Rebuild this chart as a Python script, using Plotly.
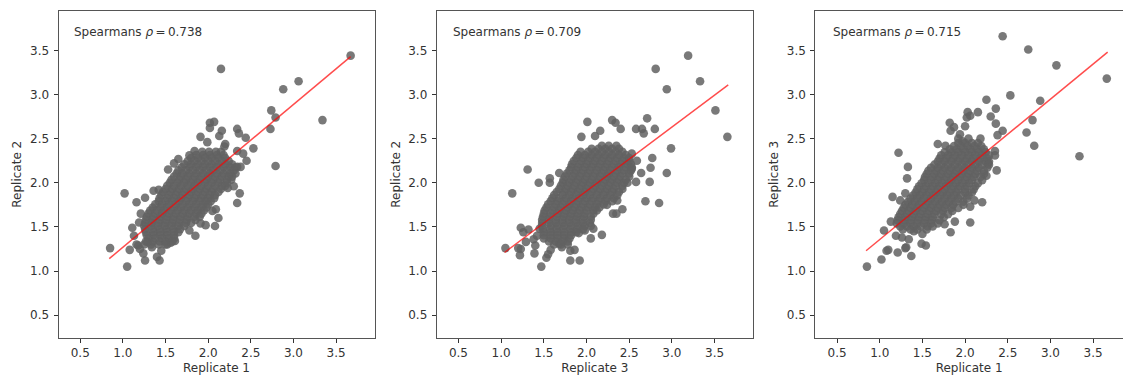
import plotly.graph_objects as go

W, H = 1123, 377
labels = ["Replicate 1", "Replicate 3", "Replicate 1"]
ylabels = ["Replicate 2", "Replicate 2", "Replicate 3"]
rho = ["0.738", "0.709", "0.715"]
tick_vals = [0.5, 1.0, 1.5, 2.0, 2.5, 3.0, 3.5]
tick_text = ["0.5", "1.0", "1.5", "2.0", "2.5", "3.0", "3.5"]

# fitted lines
line1_x = [0.84, 3.67]; line1_y = [1.14, 3.43]
line2_x = [1.04, 3.66]; line2_y = [1.21, 3.11]
line3_x = [0.84, 3.67]; line3_y = [1.23, 3.48]

# isolated points (x, y)
out1 = [(3.67,3.44),(2.15,3.29),(3.06,3.15),(2.88,3.06),(2.74,2.82),(2.79,2.74),(2.73,2.61),(3.34,2.71),(2.79,2.19),
(2.53,2.39),(2.44,2.51),(2.34,2.61),(2.36,2.56),(2.45,2.25),(2.34,2.36),(2.41,2.33),(2.34,2.18),(2.37,1.88),(2.34,1.77),
(2.02,2.68),(2.07,2.69),(2.02,2.62),(2.16,2.59),(2.13,2.53),(1.91,2.52),(2.2,2.44),(1.99,2.46),(2.19,2.41),(1.53,2.15),
(1.6,2.22),(1.65,2.27),(1.02,1.88),(1.16,1.78),(1.26,1.83),(1.36,1.91),(0.85,1.26),(1.05,1.05),(1.26,1.12),(1.43,1.12),
(1.4,1.16),(1.08,1.24),(1.11,1.49),(1.13,1.4),(1.19,1.55),(1.21,1.65),(1.18,1.29),(1.24,1.2),(1.34,1.27),(1.45,1.23),
(1.52,1.3),(1.61,1.34),(1.85,1.4),(1.78,1.46),(1.91,1.54),(1.97,1.52),(2.08,1.51),(2.12,1.6),(2.09,1.7),(2.05,1.68),
(2.23,1.94),(2.3,1.96),(1.16,1.3),(1.2,1.25),(1.29,1.33),(1.56,1.32),(1.42,1.92),(1.84,2.36),(1.78,2.31),(2.38,2.18)]
out2 = [(3.19,3.44),(2.81,3.29),(3.33,3.15),(2.94,3.06),(3.51,2.82),(3.65,2.52),(2.99,2.39),(2.94,2.11),(2.77,2.28),
(2.75,2.17),(2.74,2.01),(2.85,1.77),(2.69,1.79),(2.71,2.73),(2.8,2.61),(2.58,2.61),(2.65,2.61),(2.67,2.56),(2.4,2.61),
(2.34,2.68),(2.3,2.71),(2.01,2.69),(2.16,2.59),(2.1,2.53),(1.94,2.52),(1.31,2.15),(1.13,1.88),(1.44,2.0),(1.57,2.05),
(1.57,2.0),(1.68,2.11),(1.05,1.26),(1.47,1.05),(1.81,1.12),(1.92,1.12),(1.81,1.23),(1.86,1.24),(1.22,1.18),(1.23,1.25),
(1.39,1.2),(1.53,1.15),(1.55,1.19),(1.58,1.24),(1.71,1.27),(1.23,1.49),(1.32,1.47),(1.26,1.44),(1.29,1.33),(1.4,1.29),
(2.18,1.41),(2.05,1.37),(1.91,1.43),(2.08,1.48),(2.42,1.7),(2.31,1.65),(2.35,1.65),(2.24,1.75),(2.36,1.8),(2.64,2.11),
(2.58,2.01),(2.59,2.25),(2.53,2.33),(2.53,2.16),(1.2,1.26),(1.42,1.4),(1.38,1.36),(1.45,1.48),(1.68,1.31),(1.98,1.46)]
out3 = [(2.44,3.66),(2.74,3.51),(3.07,3.33),(3.66,3.18),(2.53,2.99),(2.25,2.94),(2.88,2.93),(2.36,2.84),(2.15,2.8),
(2.03,2.8),(2.06,2.76),(2.02,2.74),(2.3,2.75),(2.36,2.67),(2.79,2.71),(2.72,2.57),(2.81,2.42),(3.34,2.3),(2.44,2.59),
(2.38,2.54),(1.82,2.68),(1.87,2.63),(1.83,2.59),(2.0,2.64),(1.94,2.55),(1.22,2.34),(1.33,2.18),(1.32,2.05),(1.3,1.88),
(1.15,1.84),(1.24,1.8),(0.85,1.05),(1.02,1.13),(1.08,1.23),(1.1,1.24),(1.21,1.21),(1.37,1.17),(1.3,1.26),(1.31,1.27),
(1.49,1.31),(1.54,1.29),(1.05,1.46),(1.34,1.36),(1.26,1.38),(1.19,1.4),(1.83,1.44),(2.06,1.55),(1.88,1.56),(1.76,1.53),
(2.2,1.78),(2.06,1.73),(2.11,1.8),(2.37,2.14),(2.25,2.08),(2.35,2.31),(2.35,2.36),(2.27,2.22),(2.18,2.5),(2.04,2.5),
(1.68,2.44),(1.77,2.42),(1.5,1.42),(1.13,1.56),(1.4,1.45),(1.92,2.5),(1.97,2.47)]

# dense cloud, row by row: (y, [x, ...])
rows1 = [
(2.35,[1.93,2.01,2.09,2.15]),
(2.315,[1.86,1.94,2.02,2.1,2.18]),
(2.28,[1.8,1.88,1.96,2.04,2.12,2.2]),
(2.245,[1.76,1.84,1.92,2.0,2.08,2.16,2.24]),
(2.21,[1.72,1.8,1.88,1.96,2.04,2.12,2.2,2.28]),
(2.175,[1.69,1.78,1.86,1.94,2.02,2.1,2.18,2.26,2.32]),
(2.14,[1.65,1.74,1.82,1.9,1.98,2.06,2.14,2.22,2.3]),
(2.105,[1.63,1.7,1.78,1.86,1.94,2.02,2.1,2.18,2.26,2.32]),
(2.07,[1.6,1.68,1.76,1.84,1.92,2.0,2.08,2.16,2.24,2.28]),
(2.035,[1.57,1.66,1.74,1.82,1.9,1.98,2.06,2.14,2.22,2.27]),
(2.0,[1.55,1.64,1.72,1.8,1.88,1.96,2.04,2.12,2.22]),
(1.965,[1.52,1.6,1.68,1.76,1.84,1.92,2.0,2.08,2.16,2.2]),
(1.93,[1.5,1.58,1.66,1.74,1.82,1.9,1.98,2.06,2.15]),
(1.895,[1.47,1.56,1.64,1.72,1.8,1.88,1.96,2.04,2.12]),
(1.86,[1.45,1.54,1.62,1.7,1.78,1.86,1.94,2.02,2.08]),
(1.825,[1.43,1.52,1.6,1.68,1.76,1.84,1.92,2.0,2.07]),
(1.79,[1.42,1.5,1.58,1.66,1.74,1.82,1.9,1.97,2.03]),
(1.755,[1.38,1.46,1.54,1.62,1.7,1.78,1.86,1.94,2.0]),
(1.72,[1.35,1.44,1.52,1.6,1.68,1.76,1.84,1.92,1.98]),
(1.685,[1.32,1.4,1.48,1.56,1.64,1.72,1.8,1.88,1.95]),
(1.65,[1.3,1.38,1.46,1.54,1.62,1.7,1.78,1.86,1.92]),
(1.615,[1.28,1.36,1.44,1.52,1.6,1.68,1.76,1.84,1.9]),
(1.58,[1.27,1.35,1.43,1.51,1.59,1.67,1.75,1.85]),
(1.545,[1.26,1.34,1.42,1.5,1.58,1.66,1.74,1.8]),
(1.51,[1.25,1.33,1.41,1.49,1.57,1.65,1.72]),
(1.475,[1.26,1.35,1.43,1.51,1.59,1.67]),
(1.44,[1.27,1.36,1.44,1.52,1.6,1.65]),
(1.405,[1.28,1.36,1.44,1.52,1.6]),
(1.37,[1.3,1.38,1.46,1.54,1.6]),
(1.335,[1.27,1.35,1.43,1.5,1.58]),
(1.3,[1.25,1.33,1.42,1.5]),
]
rows2 = [
(2.42,[2.18,2.26,2.35]),
(2.385,[2.06,2.14,2.22,2.3,2.38]),
(2.35,[1.93,2.02,2.1,2.18,2.26,2.34,2.42]),
(2.315,[1.9,1.98,2.06,2.14,2.22,2.3,2.38,2.46]),
(2.28,[1.88,1.96,2.04,2.12,2.2,2.28,2.36,2.44,2.5]),
(2.245,[1.85,1.94,2.02,2.1,2.18,2.26,2.34,2.42,2.5]),
(2.21,[1.83,1.92,2.0,2.08,2.16,2.24,2.32,2.4,2.48,2.52]),
(2.175,[1.82,1.9,1.98,2.06,2.14,2.22,2.3,2.38,2.46,2.53]),
(2.14,[1.8,1.88,1.96,2.04,2.12,2.2,2.28,2.36,2.44,2.52]),
(2.105,[1.77,1.86,1.94,2.02,2.1,2.18,2.26,2.34,2.42,2.5]),
(2.07,[1.75,1.84,1.92,2.0,2.08,2.16,2.24,2.32,2.4,2.5]),
(2.035,[1.73,1.82,1.9,1.98,2.06,2.14,2.22,2.3,2.38,2.46]),
(2.0,[1.72,1.8,1.88,1.96,2.04,2.12,2.2,2.28,2.36,2.44,2.48]),
(1.965,[1.7,1.78,1.86,1.94,2.02,2.1,2.18,2.26,2.34,2.42]),
(1.93,[1.68,1.76,1.84,1.92,2.0,2.08,2.16,2.24,2.32,2.42]),
(1.895,[1.65,1.74,1.82,1.9,1.98,2.06,2.14,2.22,2.3,2.38]),
(1.86,[1.62,1.72,1.8,1.88,1.96,2.04,2.12,2.2,2.28,2.36]),
(1.825,[1.6,1.68,1.76,1.84,1.92,2.0,2.08,2.16,2.24,2.32]),
(1.79,[1.58,1.66,1.74,1.82,1.9,1.98,2.06,2.14,2.22,2.3]),
(1.755,[1.55,1.64,1.72,1.8,1.88,1.96,2.04,2.12,2.2]),
(1.72,[1.53,1.62,1.7,1.78,1.86,1.94,2.02,2.1,2.15]),
(1.685,[1.51,1.6,1.68,1.76,1.84,1.92,2.0,2.08,2.12]),
(1.65,[1.5,1.58,1.66,1.74,1.82,1.9,1.98,2.08]),
(1.615,[1.49,1.57,1.65,1.73,1.81,1.89,1.97,2.05]),
(1.58,[1.48,1.56,1.64,1.72,1.8,1.88,1.96,2.05]),
(1.545,[1.48,1.56,1.64,1.72,1.8,1.88,1.96,2.04]),
(1.51,[1.48,1.58,1.66,1.74,1.82,1.9,1.98,2.05]),
(1.475,[1.49,1.57,1.65,1.73,1.81,1.89,1.96]),
(1.44,[1.5,1.58,1.66,1.74,1.82,1.88]),
(1.405,[1.5,1.58,1.66,1.74,1.82]),
(1.37,[1.5,1.58,1.66,1.74,1.8]),
(1.335,[1.56,1.64,1.72,1.78]),
(1.3,[1.62,1.7,1.78]),
]
rows3 = [
(2.45,[1.92,2.0,2.08,2.15]),
(2.415,[1.87,1.95,2.03,2.11,2.19]),
(2.38,[1.82,1.9,1.98,2.06,2.14,2.22]),
(2.345,[1.76,1.84,1.92,2.0,2.08,2.16,2.24]),
(2.31,[1.72,1.8,1.88,1.96,2.04,2.12,2.2,2.28]),
(2.275,[1.7,1.78,1.86,1.94,2.02,2.1,2.18,2.26]),
(2.24,[1.68,1.76,1.84,1.92,2.0,2.08,2.16,2.24,2.28]),
(2.205,[1.64,1.72,1.8,1.88,1.96,2.04,2.12,2.2,2.28]),
(2.17,[1.6,1.68,1.76,1.84,1.92,2.0,2.08,2.16,2.26]),
(2.135,[1.57,1.66,1.74,1.82,1.9,1.98,2.06,2.14,2.22]),
(2.1,[1.55,1.64,1.72,1.8,1.88,1.96,2.04,2.12,2.22]),
(2.065,[1.53,1.62,1.7,1.78,1.86,1.94,2.02,2.1,2.18]),
(2.03,[1.52,1.6,1.68,1.76,1.84,1.92,2.0,2.08,2.2]),
(1.995,[1.49,1.57,1.65,1.73,1.81,1.89,1.97,2.05,2.15]),
(1.96,[1.46,1.54,1.62,1.7,1.78,1.86,1.94,2.02,2.12]),
(1.925,[1.44,1.52,1.6,1.68,1.76,1.84,1.92,2.0,2.1]),
(1.89,[1.42,1.5,1.58,1.66,1.74,1.82,1.9,2.0,2.08]),
(1.855,[1.39,1.47,1.55,1.63,1.71,1.79,1.87,1.95,2.04]),
(1.82,[1.36,1.44,1.52,1.6,1.68,1.76,1.84,1.92,2.02]),
(1.785,[1.33,1.41,1.49,1.57,1.65,1.73,1.81,1.89,1.98]),
(1.75,[1.3,1.38,1.46,1.54,1.62,1.7,1.78,1.86,1.98]),
(1.715,[1.28,1.36,1.44,1.52,1.6,1.68,1.76,1.84,1.92]),
(1.68,[1.26,1.34,1.42,1.5,1.58,1.66,1.74,1.85]),
(1.645,[1.24,1.32,1.4,1.48,1.56,1.64,1.72,1.8]),
(1.61,[1.22,1.3,1.38,1.46,1.54,1.62,1.75]),
(1.575,[1.21,1.29,1.37,1.45,1.53,1.61,1.7]),
(1.54,[1.2,1.28,1.36,1.44,1.52,1.6,1.68]),
(1.505,[1.24,1.32,1.4,1.48,1.56,1.62]),
(1.47,[1.27,1.36,1.44,1.55]),
]

def xy(out, rows):
    xs = [p[0] for p in out]
    ys = [p[1] for p in out]
    for y, row in rows:
        xs += row
        ys += [y] * len(row)
    return xs, ys

panels = [(out1, rows1, line1_x, line1_y), (out2, rows2, line2_x, line2_y), (out3, rows3, line3_x, line3_y)]
left_px = [58.5, 436.7, 815.3]
right_px = [374.5, 753.0, 1123.0]
x_range = [[0.245, 3.95], [0.245, 3.95], [0.245, 3.85]]
text_px = [72.2, 450.5, 830.5]
TXT = "#333333"
FONT = "DejaVu Sans"

fig = go.Figure()
layout = dict(
    width=W, height=H, margin=dict(l=0, r=0, t=0, b=0), autosize=False,
    paper_bgcolor="white", plot_bgcolor="white", showlegend=False,
    font=dict(family=FONT, size=12, color=TXT),
)
annotations = []
for i, (out, rows, lx, ly) in enumerate(panels):
    n = "" if i == 0 else str(i + 1)
    xs, ys = xy(out, rows)
    fig.add_trace(go.Scatter(x=xs, y=ys, mode="markers", xaxis="x" + n, yaxis="y" + n,
                             marker=dict(size=8.6, color="rgba(98,98,98,0.85)", line=dict(width=0))))
    fig.add_trace(go.Scatter(x=lx, y=ly, mode="lines", xaxis="x" + n, yaxis="y" + n,
                             line=dict(color="rgba(255,0,0,0.7)", width=1.5)))
    layout["xaxis" + n] = dict(
        domain=[left_px[i] / W, right_px[i] / W], range=x_range[i], anchor="y" + n,
        tickmode="array", tickvals=tick_vals, ticktext=tick_text, ticks="outside", ticklen=4, tickwidth=1,
        tickcolor="#333", showgrid=False, zeroline=False, showline=True, linecolor="#555", linewidth=1, mirror=True,
        title=dict(text=labels[i], standoff=4, font=dict(size=12, color=TXT)), tickfont=dict(size=12, color=TXT))
    layout["yaxis" + n] = dict(
        domain=[1 - 337.5 / H, 1 - 11 / H], range=[0.247, 3.946], anchor="x" + n,
        tickmode="array", tickvals=tick_vals, ticktext=tick_text, ticks="outside", ticklen=4, tickwidth=1,
        tickcolor="#333", showgrid=False, zeroline=False, showline=True, linecolor="#555", linewidth=1,
        mirror=(i != 2), ticklabelstandoff=2,
        title=dict(text=ylabels[i], standoff=5, font=dict(size=12, color=TXT)), tickfont=dict(size=12, color=TXT))
    annotations.append(dict(xref="paper", yref="paper", x=text_px[i] / W, y=1 - 32 / H, xanchor="left", yanchor="middle",
                            showarrow=False, text="Spearmans <i>ρ</i>\u2009=\u2009" + rho[i], font=dict(size=12, color=TXT, family=FONT)))
layout["annotations"] = annotations
fig.update_layout(**layout)
fig.write_html("out.html", config=dict(displayModeBar=False),
               post_script="document.body.style.margin='0';document.body.style.overflow='hidden';")
